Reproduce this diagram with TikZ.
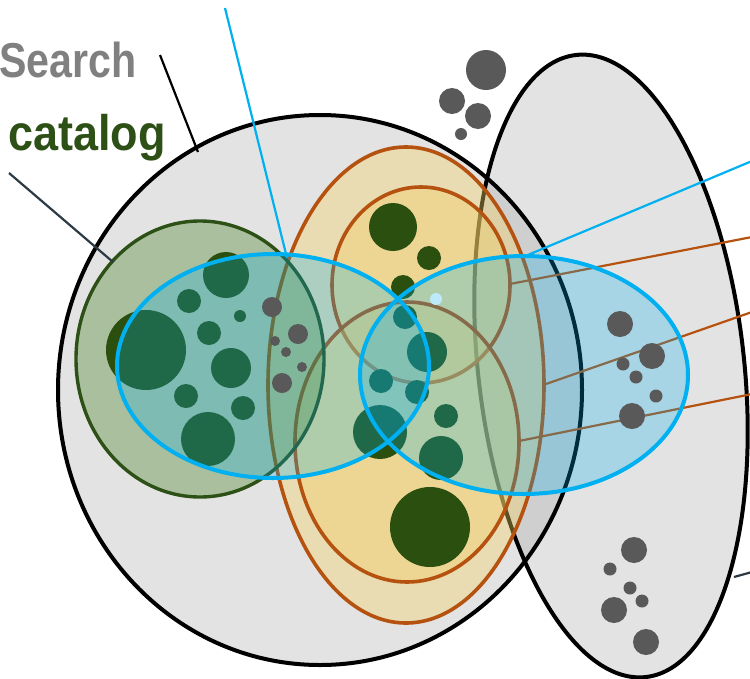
\documentclass[tikz,border=0pt]{standalone}
\usepackage{xcolor}
\usepackage{fontspec}
\newfontfamily\labelfont[FakeStretch=0.84]{Liberation Sans}
\newfontfamily\labelfontwide[FakeStretch=0.9]{Liberation Sans}
\usepackage{tikz}
\usetikzlibrary{calc}
\definecolor{cyanline}{HTML}{00B0F0}
\definecolor{rust}{HTML}{B5520F}
\definecolor{leaf}{HTML}{2D5016}
\definecolor{dotgreen}{HTML}{2B4F0E}
\definecolor{dotgray}{HTML}{595959}
\definecolor{slate}{HTML}{2B3A44}
\definecolor{paleg}{HTML}{E3E3E3}
\definecolor{midg}{RGB}{167,167,167}
\definecolor{honey}{RGB}{244,208,100}
\definecolor{moss}{RGB}{40,110,0}
\definecolor{labelgray}{HTML}{808080}
\tikzstyle{rim}=[line width=4pt]
\tikzstyle{yellowset}=[fill=honey, fill opacity=.38, draw=rust, line width=3.6pt]
\tikzstyle{greenset}=[fill=moss, fill opacity=.3, draw=leaf, line width=3.4pt]
\tikzstyle{blueset}=[fill=cyanline, fill opacity=.26, draw=cyanline, line width=4pt]
\tikzstyle{callout}=[line width=2.2pt]
\tikzstyle{biglabel}=[anchor=base west, inner sep=0]
\newcommand{\YEgray}[3]{\fill[dotgray] (#1,#2) circle (#3);}
\newcommand{\YEgreen}[3]{\fill[dotgreen] (#1,#2) circle (#3);}

\begin{document}
\begin{tikzpicture}[x=1pt, y=-1pt]
\useasboundingbox (0,0) rectangle (750,678);
% big search set and the set on the right
\fill[paleg] (320,390) ellipse [x radius=262, y radius=275];
\fill[midg, fill opacity=.32, rotate around={6.4:(611,366)}] (611,366) ellipse [x radius=133, y radius=313];
\draw[rim] (320,390) ellipse [x radius=262, y radius=275];
\draw[rim, rotate around={6.4:(611,366)}] (611,366) ellipse [x radius=133, y radius=313];
% yellow sets
\filldraw[yellowset] (406,385) ellipse [x radius=138, y radius=238];
\filldraw[yellowset] (421,285) ellipse [x radius=89, y radius=98];
\filldraw[yellowset] (407,442) ellipse [x radius=112, y radius=140];
% catalog set
\filldraw[greenset] (200,359) ellipse [x radius=124, y radius=138];
\YEgreen{226}{275}{23} \YEgreen{189}{301}{12} \YEgreen{240}{316}{6}
\YEgreen{209}{333}{12} \YEgreen{146}{350}{40} \YEgreen{231}{368}{20}
\YEgreen{186}{396}{12} \YEgreen{243}{408}{12} \YEgreen{208}{439}{27}
\YEgreen{393}{227}{24} \YEgreen{429}{258}{12} \YEgreen{403}{287}{12}
\YEgreen{405}{317}{12} \YEgreen{427}{352}{20} \YEgreen{381}{381}{12}
\YEgreen{417}{392}{12} \YEgreen{380}{432}{27} \YEgreen{446}{416}{12}
\YEgreen{441}{458}{22} \YEgreen{430}{527}{40}
\fill[white] (436,299) circle (6);
% labels and callouts
\node[biglabel, text=labelgray, font=\labelfont\bfseries\fontsize{49}{51}\selectfont] (search) at (-1,77) {Search};
\node[biglabel, text=leaf, font=\labelfontwide\bfseries\fontsize{50}{52}\selectfont] (catalog) at (8,150) {catalog};
\coordinate (searchend) at (160,55);
\coordinate (bigrim) at (198,152);
\coordinate (catend) at (9,173);
\coordinate (greenrim) at (113,262);
\coordinate (leftcyan) at (225,8);
\coordinate (blueLrim) at (287,258);
\coordinate (rightcyan) at (752,161);
\coordinate (blueRrim) at (523,257);
\coordinate (tagA) at (752,237);
\coordinate (upperrim) at (510,284);
\coordinate (tagB) at (752,312);
\coordinate (outerrim) at (546,384);
\coordinate (tagC) at (752,394);
\coordinate (lowerrim) at (519,441);
\coordinate (tagD) at (752,572);
\coordinate (rightrim) at (734,577);
\draw[callout] (searchend) -- (bigrim);
\draw[callout, slate] (catend) -- (greenrim);
\draw[callout, slate] (tagD) -- (rightrim);
\draw[callout, rust] (tagA) -- (upperrim);
\draw[callout, rust] (tagB) -- (outerrim);
\draw[callout, rust] (tagC) -- (lowerrim);
% blue sets
\filldraw[blueset] (273,366) ellipse [x radius=156, y radius=112];
\filldraw[blueset] (524,375) ellipse [x radius=164, y radius=119];
\draw[callout, cyanline] (leftcyan) -- (blueLrim);
\draw[callout, cyanline] (rightcyan) -- (blueRrim);
% gray dots
\YEgray{486}{70}{20} \YEgray{452}{101}{13} \YEgray{478}{116}{13} \YEgray{461}{134}{6}
\YEgray{620}{324}{13} \YEgray{652}{356}{13} \YEgray{623}{364}{6.5}
\YEgray{636}{377}{6.5} \YEgray{656}{396}{6.5} \YEgray{632}{416}{13}
\YEgray{634}{550}{13} \YEgray{610}{569}{6.5} \YEgray{630}{588}{6.5}
\YEgray{642}{601}{6.5} \YEgray{614}{610}{13} \YEgray{646}{642}{13}
\YEgray{272}{307}{10} \YEgray{298}{334}{10} \YEgray{275}{341}{5}
\YEgray{286}{352}{5} \YEgray{302}{367}{5} \YEgray{282}{383}{10}
\end{tikzpicture}
\end{document}
